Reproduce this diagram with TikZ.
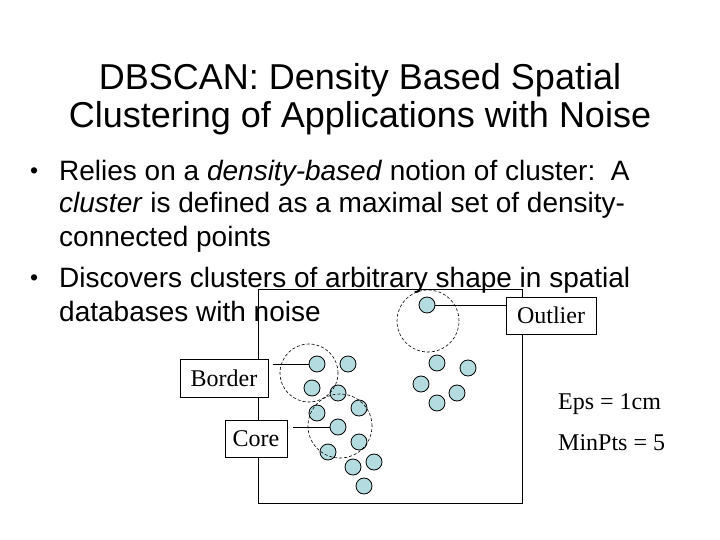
\documentclass[tikz,border=0pt]{standalone}
\usepackage{fontspec}
\setmainfont{Liberation Sans}
\newfontfamily\tnr{Liberation Serif}
\definecolor{ptcol}{RGB}{180,220,224}
\tikzset{
  titletext/.style={font=\fontsize{36}{43}\selectfont, inner sep=0pt, anchor=base},
  bullettext/.style={font=\fontsize{28}{34}\selectfont, inner sep=0pt, anchor=base west},
  bulletmark/.style={font=\fontsize{23}{26}\selectfont, inner sep=0pt, anchor=base west},
  serifbox/.style={draw, fill=white, line width=0.8pt, font=\tnr\fontsize{24}{28}\selectfont, inner sep=0pt},
  seriftext/.style={font=\tnr\fontsize{24}{28}\selectfont, inner sep=0pt, anchor=base west},
  dpt/.style={circle, draw=black, fill=ptcol, line width=0.8pt, minimum size=16pt, inner sep=0pt},
  epscircle/.style={circle, draw=black, dash pattern=on 3pt off 2pt, line width=0.6pt, inner sep=0pt},
  leader/.style={draw=black, line width=0.8pt}
}
\begin{document}
\begin{tikzpicture}[x=1pt,y=-1pt]
\useasboundingbox[fill=white] (0,0) rectangle (720,540);
% title
\node[titletext] (t1) at (360,90) {DBSCAN: Density Based Spatial};
\node[titletext] (t2) at (360,128) {Clustering of Applications with Noise};
% bullets
\node[bulletmark] (b1) at (30,179) {•};
\node[bullettext] (l1) at (59,181) {Relies on a \textit{density-based} notion of cluster:\ \ A};
\node[bullettext] (l2) at (59,213) {\textit{cluster} is defined as a maximal set of density-};
\node[bullettext] (l3) at (59,247) {connected points};
\node[bulletmark] (b2) at (30,285) {•};
\node[bullettext] (l4) at (59,287) {Discovers clusters of arbitrary shape in spatial};
\node[bullettext] (l5) at (59,321) {databases with noise};
% main frame
\draw[line width=0.9pt] (258,289) rectangle (522,503);
% points
\node[dpt] (p1) at (317,364) {};
\node[dpt] (p2) at (348,364) {};
\node[dpt] (p3) at (312,388) {};
\node[dpt] (p4) at (338,393) {};
\node[dpt] (p5) at (317,413) {};
\node[dpt] (p6) at (359,408) {};
\node[dpt] (p7) at (338,427) {};
\node[dpt] (p8) at (359,442) {};
\node[dpt] (p9) at (328,452) {};
\node[dpt] (p10) at (353,467) {};
\node[dpt] (p11) at (374,462) {};
\node[dpt] (p12) at (364,486) {};
\node[dpt] (q1) at (437,363) {};
\node[dpt] (q2) at (468,368) {};
\node[dpt] (q3) at (421,384) {};
\node[dpt] (q4) at (457,393) {};
\node[dpt] (q5) at (437,403) {};
\node[dpt] (o) at (427,305) {};
% eps neighbourhoods
\node[epscircle, minimum size=58pt] (cb) at (309,373) {};
\node[epscircle, minimum size=64pt] (cc) at (340,426) {};
\node[epscircle, minimum size=62pt] (co) at (428,321) {};
% labels
\node[serifbox, minimum width=88pt, minimum height=38pt] (border) at (224,378) {Border};
\node[serifbox, minimum width=62pt, minimum height=37pt] (core) at (256,438.5) {Core};
\node[serifbox, minimum width=90pt, minimum height=37pt] (outlier) at (551,315.5) {Outlier};
\draw[leader, shorten <=5pt] (border.east |- p1) -- (p1);
\draw[leader, shorten <=6pt] (core.east |- p7) -- (p7);
\draw[leader] (o) -- (outlier.west |- o);
% parameters
\node[seriftext] (eps) at (558,409) {Eps = 1cm};
\node[seriftext] (minpts) at (558,450) {MinPts = 5};
\end{tikzpicture}
\end{document}
